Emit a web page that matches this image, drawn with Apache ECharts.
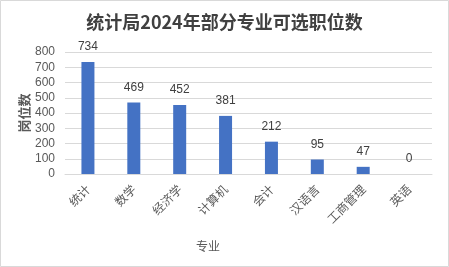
<!DOCTYPE html>
<html><head><meta charset="utf-8">
<script src="https://cdn.jsdelivr.net/npm/echarts@6/dist/echarts.min.js"></script>
<style>html,body{margin:0;padding:0;background:#fff}#c{width:449px;height:267px}</style>
</head><body><div id="c"></div>
<script>
const titleText = '统计局2024年部分专业可选职位数';
const categories = ['统计','数学','经济学','计算机','会计','汉语言','工商管理','英语'];
const values = [734,469,452,381,212,95,47,0];
const yTicks = [0,100,200,300,400,500,600,700,800];
const yName = '岗位数';
const xName = '专业';

const chart = echarts.init(document.getElementById('c'), null, {renderer:'canvas'});
const font = '"Noto Sans CJK SC", "Noto Sans", sans-serif';
chart.setOption({
  animation:false,
  backgroundColor:'#fff',
  title:{text:titleText,left:'center',top:8,textStyle:{fontFamily:font,fontSize:18,fontWeight:'bold',color:'#404040'}},
  grid:{left:65,right:17,top:52,bottom:93,containLabel:false},
  xAxis:{type:'category',data:categories,
    axisLine:{lineStyle:{color:'#d9d9d9'}},axisTick:{show:false},
    axisLabel:{rotate:45,margin:13,fontFamily:font,fontSize:12,color:'#595959',interval:0}},
  yAxis:{type:'value',min:yTicks[0],max:yTicks[yTicks.length-1],interval:100,
    axisLine:{show:false},axisTick:{show:false},
    axisLabel:{fontFamily:'"Liberation Sans", sans-serif',fontSize:12,color:'#595959',margin:10},
    splitLine:{lineStyle:{color:'#d9d9d9'}},
    name:yName,nameLocation:'middle',nameGap:34,nameRotate:90,nameMoveOverlap:false,
    nameTextStyle:{fontFamily:font,fontSize:13,fontWeight:'bold',color:'#595959'}},
  series:[{type:'bar',data:values,barWidth:13,itemStyle:{color:'#4472c4'},
    label:{show:true,position:'top',distance:9,fontFamily:'"Liberation Sans", sans-serif',fontSize:12,color:'#404040'}}],
  graphic:[
    {type:'text',left:196,top:240,style:{text:xName,font:'12px "Noto Sans CJK SC"',fill:'#595959'}},
    {type:'rect',shape:{x:0.5,y:0.5,width:448,height:266},style:{fill:'none',stroke:'#d9d9d9',lineWidth:1},silent:true}
  ]
});
</script></body></html>
